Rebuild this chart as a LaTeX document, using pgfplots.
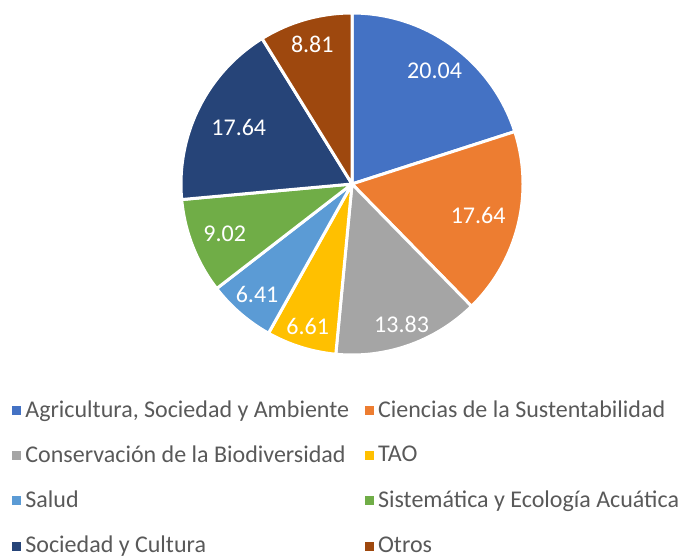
\documentclass[border=0pt]{standalone}
\usepackage{fontspec}
\setmainfont{Carlito}
\usepackage{pgfplots}
\usepackage{pgfplotstable}
\pgfplotsset{compat=1.18}
\definecolor{c0}{HTML}{4472C4}
\definecolor{c1}{HTML}{ED7D31}
\definecolor{c2}{HTML}{A5A5A5}
\definecolor{c3}{HTML}{FFC000}
\definecolor{c4}{HTML}{5B9BD5}
\definecolor{c5}{HTML}{70AD47}
\definecolor{c6}{HTML}{264478}
\definecolor{c7}{HTML}{9E480E}
\definecolor{legtxt}{HTML}{595959}
\newcommand\lblfont{\fontsize{12}{14}\selectfont}

% share per area; lr = where the label sits, as a fraction of the radius
\pgfplotstableread[col sep=semicolon]{
area;val;lr
Agricultura, Sociedad y Ambiente;20.04;0.82
Ciencias de la Sustentabilidad;17.64;0.76
Conservación de la Biodiversidad;13.83;0.87
TAO;6.61;0.87
Salud;6.41;0.85
Sistemática y Ecología Acuática;9.02;0.80
Sociedad y Cultura;17.64;0.74
Otros;8.81;0.85
}\piedata

\begin{document}
\begin{tikzpicture}
\begin{axis}[
  scale only axis, width=342.5pt, height=278pt,
  xmin=0, xmax=685, ymin=0, ymax=556, y dir=reverse,
  hide axis, clip=false,
  legend columns=2,
  legend cell align=left,
  legend style={at={(axis cs:12,396)}, anchor=north west, draw=none, fill=none,
    inner sep=0pt, font=\lblfont, text=legtxt, row sep=8.8pt,
    /tikz/every even column/.append style={column sep=6pt}},
  legend image code/.code={\fill[#1,draw=none] (0pt,-2.3pt) rectangle (4.5pt,2.2pt);},
]
\path (0,0) rectangle (685,556);
\def\cum{0}
\pgfplotsforeachungrouped \i in {0,...,7}{%
  \pgfplotstablegetelem{\i}{val}\of\piedata \let\v\pgfplotsretval
  \pgfplotstablegetelem{\i}{area}\of\piedata \let\nm\pgfplotsretval
  \pgfmathsetmacro\a{90-3.6*\cum}%
  \pgfmathsetmacro\cum{\cum+\v}%
  \pgfmathsetmacro\b{90-3.6*\cum}%
  \edef\cmd{\noexpand\addplot[fill=c\i, draw=white, line width=1.5pt,
      line join=round, domain=\b:\a, samples=90]
    ({352+171*cos(x)},{184-171*sin(x)}) -- (352,184) -- cycle;
    \noexpand\addlegendentry{\nm}}%
  \cmd
}
\def\cum{0}
\pgfplotsforeachungrouped \i in {0,...,7}{%
  \pgfplotstablegetelem{\i}{val}\of\piedata \let\v\pgfplotsretval
  \pgfplotstablegetelem{\i}{lr}\of\piedata \let\lr\pgfplotsretval
  \pgfmathsetmacro\m{90-3.6*(\cum+\v/2)}%
  \pgfmathsetmacro\cum{\cum+\v}%
  \pgfmathsetmacro\lx{352+171*\lr*cos(\m)}%
  \pgfmathsetmacro\ly{184-171*\lr*sin(\m)}%
  \edef\cmd{\noexpand\node[text=white, font=\noexpand\lblfont] at (\lx,\ly) {\v};}%
  \cmd
}
\end{axis}
\end{tikzpicture}
\end{document}
